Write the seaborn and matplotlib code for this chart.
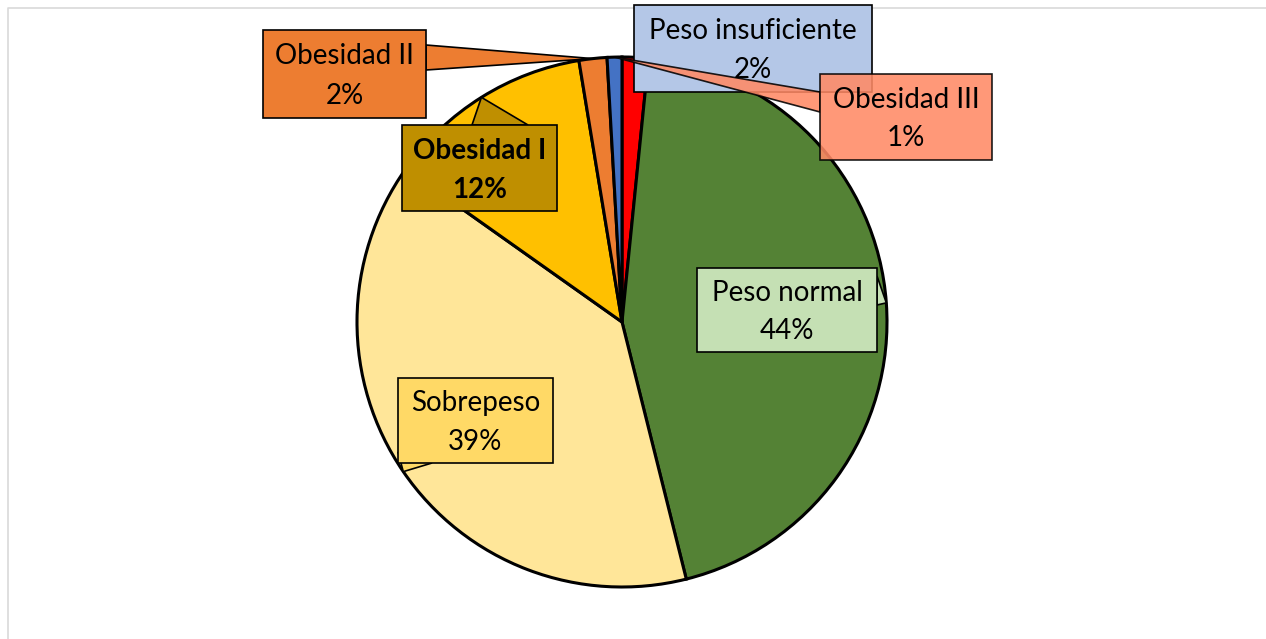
import matplotlib
matplotlib.use("Agg")
import matplotlib.pyplot as plt
import seaborn as sns
from matplotlib.patches import Polygon, Rectangle
import numpy as np

# data (clockwise from 12 o'clock)
categories = ["Peso insuficiente", "Peso normal", "Sobrepeso",
              "Obesidad I", "Obesidad II", "Obesidad III"]
values = [1.6, 44.5, 38.7, 12.6, 1.7, 0.9]
pct_labels = ["2%", "44%", "39%", "12%", "2%", "1%"]

slice_colors = ["#FF0000", "#548235", "#FFE699", "#FFC000", "#ED7D31", "#4472C4"]
box_colors = ["#B4C7E7", "#C5E0B4", "#FFD966", "#BF8F00", "#ED7D31", "#FF8A65"]

W, H = 1266, 639
sns.set_theme(style="white")
plt.rcParams['font.family'] = ['Lato', 'DejaVu Sans']

fig = plt.figure(figsize=(W / 100, H / 100), dpi=100)
ax = fig.add_axes([0, 0, 1, 1])

# chart border
ax.plot([8, 8, W + 5], [-5, H - 8, H - 8], color="#D9D9D9", lw=1.2)

cx, cy, r = 622, H - 322, 265
wedges, _ = ax.pie(values, colors=slice_colors, startangle=90, counterclock=False,
                   center=(cx, cy), radius=r, frame=True,
                   wedgeprops=dict(edgecolor="black", linewidth=2.2))
ax.set_xlim(0, W)
ax.set_ylim(0, H)
ax.set_aspect("equal")
ax.set_axis_off()

# label boxes: (x0, y0, x1, y1) in y-down pixels, and pointer base points
boxes = {
    "Peso insuficiente": (634, 5, 872, 92, [(780, 92), (872, 92)]),
    "Peso normal": (697, 268, 877, 352, [(877, 276), (877, 305)]),
    "Sobrepeso": (398, 378, 553, 463, [(398, 452), (432, 463)]),
    "Obesidad I": (402, 125, 557, 211, [(472, 125), (528, 125)]),
    "Obesidad II": (263, 30, 426, 118, [(426, 45), (426, 70)]),
    "Obesidad III": (820, 74, 992, 160, [(820, 92), (820, 112)]),
}

for i, (cat, w) in enumerate(zip(categories, wedges)):
    x0, y0, x1, y1, base = boxes[cat]
    mid = np.deg2rad((w.theta1 + w.theta2) / 2)
    tip = (cx + r * np.cos(mid), cy + r * np.sin(mid))
    alpha = 0.88 if cat == "Obesidad III" else 1.0
    pts = [tip] + [(bx, H - by) for bx, by in base]
    ax.add_patch(Polygon(pts, closed=True, facecolor=box_colors[i],
                         edgecolor="black", lw=1.2, alpha=alpha, zorder=5 + i))
    ax.add_patch(Rectangle((x0, H - y1), x1 - x0, y1 - y0, facecolor=box_colors[i],
                           edgecolor="black", lw=1.2, alpha=alpha, zorder=5 + i))
    weight = "bold" if cat == "Obesidad I" else "normal"
    xm = (x0 + x1) / 2
    ax.text(xm, H - (y0 + 0.3 * (y1 - y0)), cat, ha="center", va="center",
            fontsize=20, fontweight=weight, color="black", zorder=20)
    ax.text(xm, H - (y0 + 0.75 * (y1 - y0)), pct_labels[i], ha="center", va="center",
            fontsize=20, fontweight=weight, color="black", zorder=20)

fig.savefig("out.png", dpi=100)
